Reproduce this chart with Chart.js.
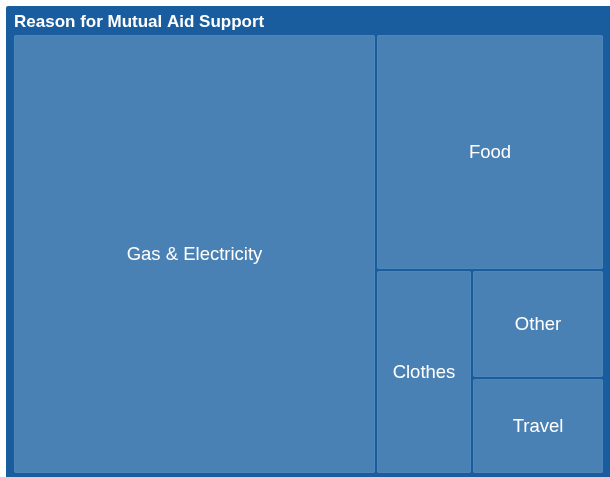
<!DOCTYPE html>
<html>
<head>
<meta charset="utf-8">
<script src="https://cdn.jsdelivr.net/npm/chart.js@4/dist/chart.umd.min.js"></script>
<style>
  html, body { margin: 0; padding: 0; background: #ffffff; }
  #wrap { width: 610px; height: 477px; }
</style>
</head>
<body>
<div id="wrap"><canvas id="c" width="610" height="477"></canvas></div>
<script>
// ---- data ----
const chartTitle = "Reason for Mutual Aid Support";
const categories = ["Gas & Electricity", "Food", "Clothes", "Other", "Travel"];
const values = [61.4, 20.7, 7.5, 5.5, 4.9];

// ---- styles ----
const frameColor = "#1a5d9e";
const cellColor = "#4a81b5";
const cellEdge = "#4e86b9";
const fontFamily = "'Liberation Sans', Arial, Helvetica, sans-serif";

// binary treemap layout (balanced split), computed with the pixel aspect, returned as 0..100 values
function binaryLayout(vals, W, H) {
  const n = vals.length;
  const sums = [0];
  for (let i = 0; i < n; i++) sums.push(sums[i] + vals[i]);
  const out = new Array(n);
  function partition(i, j, value, x0, y0, x1, y1) {
    if (i >= j - 1) { out[i] = { x0, y0, x1, y1 }; return; }
    const offset = sums[i], target = value / 2 + offset;
    let k = i + 1, hi = j - 1;
    while (k < hi) { const mid = (k + hi) >>> 1; if (sums[mid] < target) k = mid + 1; else hi = mid; }
    if ((target - sums[k - 1]) < (sums[k] - target) && i + 1 < k) --k;
    const left = sums[k] - offset, right = value - left;
    if ((x1 - x0) > (y1 - y0)) {
      const xk = (x0 * right + x1 * left) / value;
      partition(i, k, left, x0, y0, xk, y1);
      partition(k, j, right, xk, y0, x1, y1);
    } else {
      const yk = (y0 * right + y1 * left) / value;
      partition(i, k, left, x0, y0, x1, yk);
      partition(k, j, right, x0, yk, x1, y1);
    }
  }
  partition(0, n, sums[n], 0, 0, W, H);
  return out.map(r => ({ x0: r.x0 / W * 100, x1: r.x1 / W * 100, y0: r.y0 / H * 100, y1: r.y1 / H * 100 }));
}

const frameAndCells = {
  id: "treemapCells",
  beforeDraw(chart) {
    const ctx = chart.ctx;
    ctx.save();
    ctx.fillStyle = frameColor;
    ctx.beginPath();
    if (ctx.roundRect) ctx.roundRect(6, 6, chart.width - 6, chart.height - 6, [2, 0, 0, 0]);
    else ctx.rect(6, 6, chart.width - 6, chart.height - 6);
    ctx.fill();
    ctx.restore();
  },
  afterDatasetsDraw(chart) {
    const ctx = chart.ctx;
    const xs = chart.scales.x, ys = chart.scales.y;
    const area = chart.chartArea;
    const cells = binaryLayout(values, area.right - area.left, area.bottom - area.top);
    ctx.save();
    cells.forEach((c, i) => {
      const l = Math.round(xs.getPixelForValue(c.x0)) + (c.x0 <= 0.001 ? 0 : 1);
      const r = Math.round(xs.getPixelForValue(c.x1)) - 1;
      const t = Math.round(ys.getPixelForValue(c.y0)) + 1;
      const b = Math.round(ys.getPixelForValue(c.y1)) - 1;
      ctx.fillStyle = cellColor;
      ctx.strokeStyle = cellEdge;
      ctx.lineWidth = 1;
      ctx.beginPath();
      if (ctx.roundRect) ctx.roundRect(l, t, r - l, b - t, 2); else ctx.rect(l, t, r - l, b - t);
      ctx.fill();
      ctx.beginPath();
      if (ctx.roundRect) ctx.roundRect(l + 0.5, t + 0.5, r - l - 1, b - t - 1, 2); else ctx.rect(l + 0.5, t + 0.5, r - l - 1, b - t - 1);
      ctx.stroke();
      ctx.fillStyle = "#ffffff";
      ctx.font = "18.5px " + fontFamily;
      ctx.textAlign = "center";
      ctx.textBaseline = "middle";
      ctx.fillText(categories[i], (l + r) / 2, (t + b) / 2 + 1);
    });
    ctx.restore();
  }
};

new Chart(document.getElementById("c"), {
  type: "scatter",
  data: { datasets: [{ data: [], pointRadius: 0 }] },
  options: {
    responsive: false,
    animation: false,
    layout: { padding: { left: 14, right: 6, top: 6, bottom: 3 } },
    scales: {
      x: { type: "linear", min: 0, max: 100, display: false },
      y: { type: "linear", min: 0, max: 100, reverse: true, display: false }
    },
    plugins: {
      legend: { display: false },
      tooltip: { enabled: false },
      title: {
        display: true,
        text: chartTitle,
        align: "start",
        color: "#ffffff",
        font: { family: fontFamily, size: 17, weight: "bold", lineHeight: 1.2 },
        padding: { top: 6, bottom: 1.6 }
      }
    }
  },
  plugins: [frameAndCells]
});
</script>
</body>
</html>
